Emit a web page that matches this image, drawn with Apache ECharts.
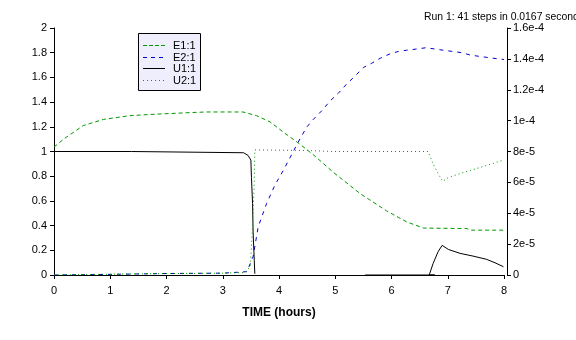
<!DOCTYPE html>
<html>
<head>
<meta charset="utf-8">
<script src="https://cdn.jsdelivr.net/npm/echarts@6/dist/echarts.min.js"></script>
<style>
html,body{margin:0;padding:0;background:#fff;}
#chart{width:576px;height:340px;}
</style>
</head>
<body>
<div id="chart"></div>
<script>
// ---- data (time in hours, values in left-axis units) ----
const e1Time = [0, 0.17, 0.52, 0.88, 1.35, 1.71, 2.42, 2.71, 3.36, 3.6, 3.84, 4.08, 4.37, 4.62, 4.97, 5.44, 5.91, 6.27, 6.57, 7.34, 7.40, 8];
const e1Values = [1.035, 1.10, 1.21, 1.26, 1.29, 1.30, 1.315, 1.32, 1.32, 1.29, 1.24, 1.156, 1.06, 0.97, 0.83, 0.66, 0.52, 0.43, 0.38, 0.376, 0.363, 0.363];

const e2Time = [0, 1.0, 2.0, 3.0, 3.43, 3.54, 3.63, 3.78, 3.93, 4.08, 4.34, 4.49, 4.61, 4.76, 4.91, 5.05, 5.2, 5.35, 5.5, 5.65, 5.8, 5.97, 6.12, 6.27, 6.45, 6.61, 6.77, 6.92, 7.09, 7.25, 7.41, 7.57, 7.73, 7.9, 8];
const e2Values = [0, 0.005, 0.012, 0.015, 0.027, 0.15, 0.39, 0.58, 0.73, 0.85, 1.075, 1.196, 1.26, 1.33, 1.41, 1.47, 1.545, 1.61, 1.68, 1.715, 1.755, 1.79, 1.81, 1.82, 1.83, 1.84, 1.83, 1.82, 1.81, 1.80, 1.78, 1.77, 1.76, 1.75, 1.745];

const u1Time = [0, 1.38, 1.39, 3.37, 3.45, 3.50, 3.51, 3.53, 3.54, 3.56, 3.57, 4.5, 5.53, 6.77, 6.67, 6.74, 6.83, 6.90, 7.01, 7.22, 7.45, 7.69, 7.84, 7.99];
const u1Values = [1.0, 1.0, 0.99, 0.99, 0.968, 0.93, 0.79, 0.58, 0.34, 0.12, 0.01, '-', 0, 0, 0, 0.094, 0.19, 0.24, 0.207, 0.175, 0.153, 0.127, 0.099, 0.067];

const u2Time = [0, 1.5, 3.0, 3.4, 3.49, 3.53, 3.56, 3.57, 4.5, 4.97, 6.65, 6.74, 6.83, 6.91, 7.01, 7.28, 7.57, 7.99];
const u2Values = [0, 0.01, 0.015, 0.02, 0.07, 0.39, 0.74, 1.013, 1.008, 1.0, 1.0, 0.90, 0.82, 0.758, 0.79, 0.83, 0.87, 0.93];

const seriesNames = ['E1:1', 'E2:1', 'U1:1', 'U2:1'];
const titleText = 'Run 1: 41 steps in 0.0167 seconds';
const xAxisName = 'TIME (hours)';

function pairs(t, v) { return t.map((x, i) => [x, v[i]]); }

const FONT = 'Liberation Sans, Arial, sans-serif';
const chart = echarts.init(document.getElementById('chart'), null, {renderer: 'canvas'});

function sciLabel(v) {
  if (v === 0) return '0';
  return parseFloat(v.toPrecision(3)).toExponential();
}

const styles = [
  {color: '#009900', type: [4, 3], legendDash: [4, 2]},
  {color: '#0000cc', type: [4, 5], legendDash: [4, 4]},
  {color: '#000000', type: 'solid', legendDash: null},
  {color: '#009900', type: [1, 3], legendDash: [1, 3]}
];

// legend drawn as a graphic box (keeps exact dash styles)
const legendBox = {left: 138, top: 33, width: 62, height: 57, rowY0: 12, rowGap: 11.5};
const legendChildren = [{
  type: 'rect', shape: {x: 0.5, y: 0.5, width: legendBox.width, height: legendBox.height},
  style: {fill: '#eeeefc', stroke: '#000', lineWidth: 1}
}];
seriesNames.forEach((n, i) => {
  const y = Math.round(legendBox.rowY0 + i * legendBox.rowGap) + 0.5;
  legendChildren.push({
    type: 'line', shape: {x1: 5, y1: y, x2: 27, y2: y},
    style: {stroke: styles[i].color, lineWidth: 1, lineDash: styles[i].legendDash}
  });
  legendChildren.push({
    type: 'text', x: 35, y: y, style: {
      text: n, fill: '#000', font: '11px ' + FONT, textVerticalAlign: 'middle', verticalAlign: 'middle'
    }
  });
});

chart.setOption({
  animation: false,
  backgroundColor: '#fff',
  title: {
    text: titleText, left: 419, top: 7,
    textStyle: {fontFamily: FONT, fontSize: 10.4, fontWeight: 'normal', color: '#000'}
  },
  grid: {left: 54, right: 72, top: 28, bottom: 65, containLabel: false},
  graphic: [{
    type: 'group', left: legendBox.left, top: legendBox.top, children: legendChildren
  }],
  xAxis: {
    type: 'value', min: 0, max: 8, interval: 1, offset: 4,
    name: xAxisName, nameLocation: 'middle', nameGap: 28,
    nameTextStyle: {fontFamily: FONT, fontSize: 12, fontWeight: 'bold', color: '#000'},
    axisLine: {show: true, lineStyle: {color: '#000', width: 1}},
    axisTick: {show: true, length: 4, lineStyle: {color: '#000'}},
    axisLabel: {fontFamily: FONT, fontSize: 11, color: '#000', margin: 6},
    splitLine: {show: false}
  },
  yAxis: [{
    type: 'value', min: 0, max: 2, interval: 0.2, offset: 2, position: 'left',
    axisLine: {show: true, lineStyle: {color: '#000', width: 1}},
    axisTick: {show: true, length: 4, lineStyle: {color: '#000'}},
    axisLabel: {fontFamily: FONT, fontSize: 11, color: '#000', margin: 5},
    splitLine: {show: false}
  }, {
    type: 'value', min: 0, max: 1.6e-4, interval: 2e-5, offset: 3, position: 'right',
    axisLine: {show: true, lineStyle: {color: '#000', width: 1}},
    axisTick: {show: true, length: 4, lineStyle: {color: '#000'}},
    axisLabel: {fontFamily: FONT, fontSize: 11, color: '#000', margin: 6, formatter: sciLabel},
    splitLine: {show: false}
  }],
  series: [{
    name: seriesNames[0], type: 'line', symbol: 'none', yAxisIndex: 0,
    data: pairs(e1Time, e1Values),
    lineStyle: {color: styles[0].color, width: 1, type: styles[0].type}, itemStyle: {color: styles[0].color}
  }, {
    name: seriesNames[1], type: 'line', symbol: 'none', yAxisIndex: 0,
    data: pairs(e2Time, e2Values),
    lineStyle: {color: styles[1].color, width: 1, type: styles[1].type}, itemStyle: {color: styles[1].color}
  }, {
    name: seriesNames[2], type: 'line', symbol: 'none', yAxisIndex: 0, connectNulls: false,
    data: pairs(u1Time, u1Values),
    lineStyle: {color: styles[2].color, width: 1, type: styles[2].type}, itemStyle: {color: styles[2].color}
  }, {
    name: seriesNames[3], type: 'line', symbol: 'none', yAxisIndex: 0,
    data: pairs(u2Time, u2Values),
    lineStyle: {color: styles[3].color, width: 1, type: styles[3].type}, itemStyle: {color: styles[3].color}
  }, {
    name: 'right', type: 'line', symbol: 'none', yAxisIndex: 1, data: []
  }]
});
</script>
</body>
</html>
